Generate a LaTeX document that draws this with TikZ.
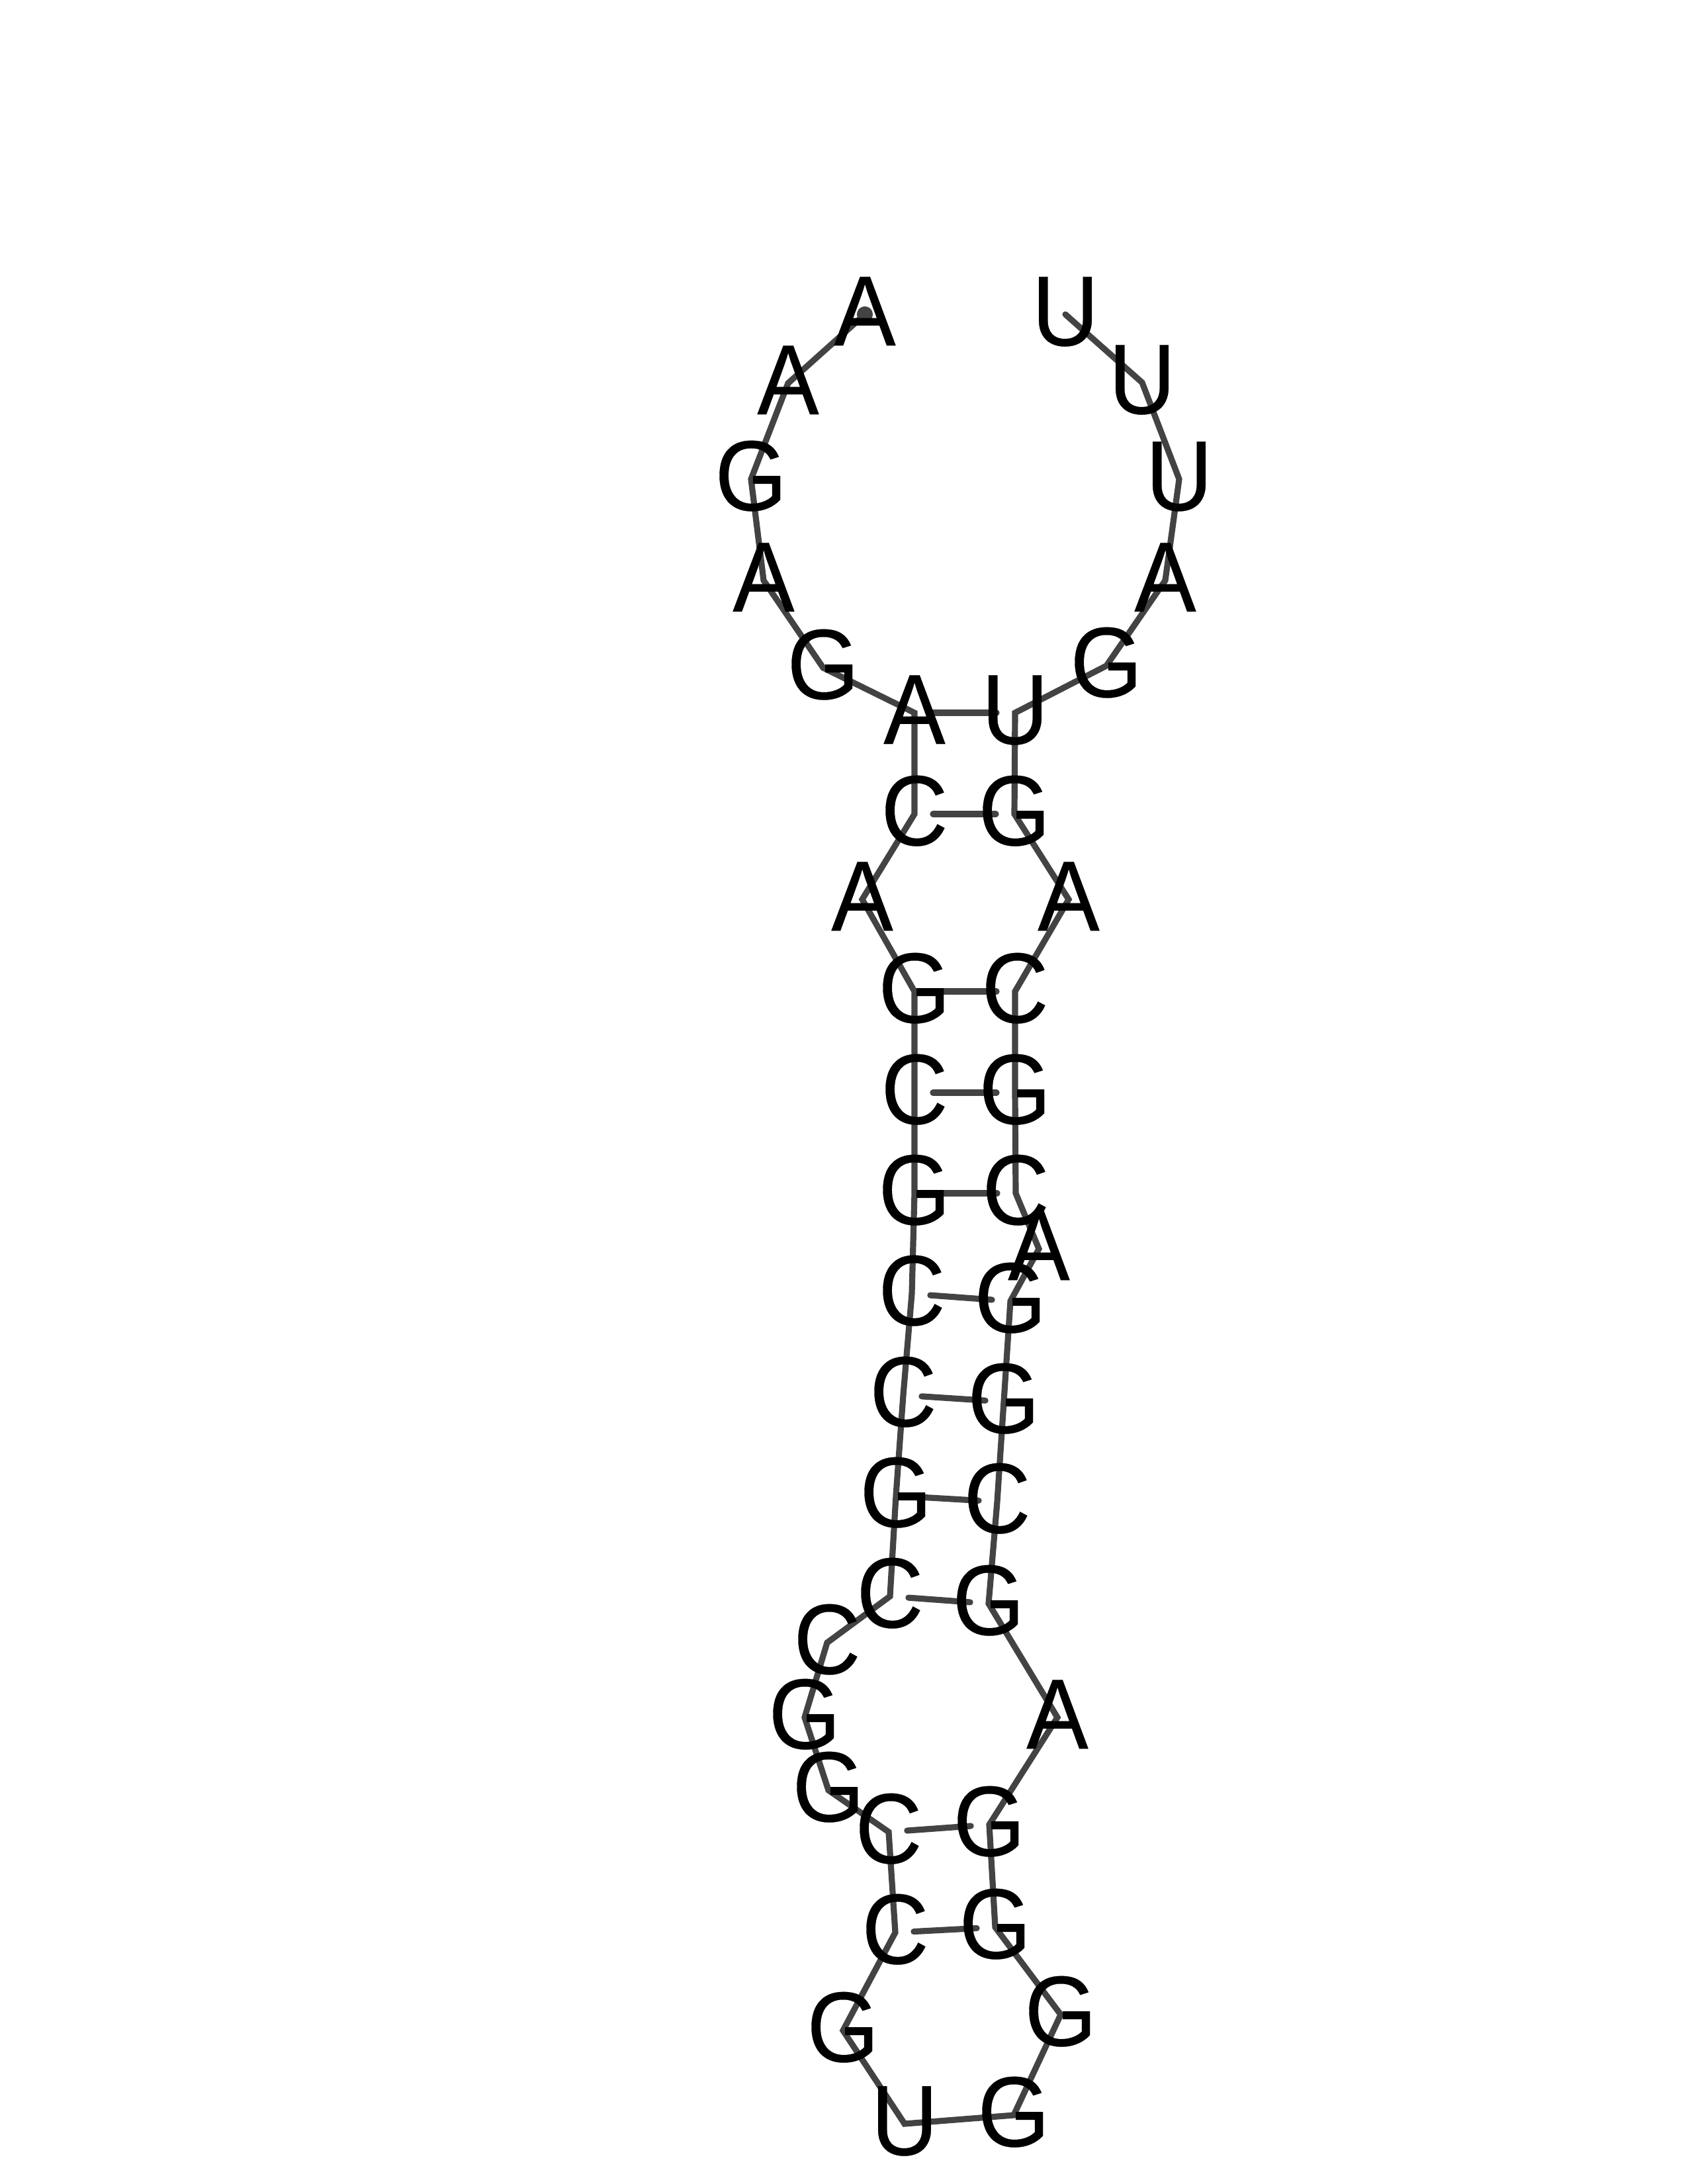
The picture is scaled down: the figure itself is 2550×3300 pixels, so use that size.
\documentclass[tikz,border=0pt]{standalone}
\usepackage{fontspec}
\usetikzlibrary{backgrounds}
\newfontfamily\basefont[FakeStretch=0.93,FakeBold=0.2]{Liberation Sans}
\definecolor{linegray}{HTML}{434343}
\tikzset{
  base/.style={inner sep=0pt, text height=25pt, text depth=2.4pt, text=black, font=\fontsize{36.2}{36.2}\basefont},
  backbone/.style={draw=linegray, line width=2.2pt, line cap=round},
  pair/.style={draw=linegray, line width=2.2pt, line cap=round, shorten >=6.7pt, shorten <=6.7pt}
}
\begin{document}
\begin{tikzpicture}[x=0.24pt, y=-0.24pt]
\useasboundingbox (0,0) rectangle (2550,3300);

% loop at the top
\node[base] (n1) at (1307,475) {A};
\node[base] (n2) at (1191,579) {A};
\node[base] (n3) at (1135,724) {G};
\node[base] (n4) at (1154,877) {A};
\node[base] (n5) at (1244,1009) {G};
\node[base] (n6) at (1382,1077) {A};
\node[base] (n7) at (1382,1230) {C};
\node[base] (n8) at (1303,1359) {A};
\node[base] (n9) at (1382,1498) {G};
\node[base] (n10) at (1382,1651) {C};
\node[base] (n11) at (1382,1803) {G};
\node[base] (n12) at (1378,1955) {C};
\node[base] (n13) at (1365,2108) {C};
\node[base] (n14) at (1354,2260) {G};
\node[base] (n15) at (1345,2412) {C};
\node[base] (n16) at (1250,2482) {C};
\node[base] (n17) at (1216,2595) {G};
\node[base] (n18) at (1252,2705) {G};
\node[base] (n19) at (1343,2768) {C};
\node[base] (n20) at (1353,2920) {C};
\node[base] (n21) at (1274,3068) {G};
\node[base] (n22) at (1367,3209) {U};
\node[base] (n23) at (1532,3196) {G};
\node[base] (n24) at (1603,3044) {G};
\node[base] (n25) at (1504,2912) {G};
\node[base] (n26) at (1495,2757) {G};
\node[base] (n27) at (1598,2595) {A};
\node[base] (n28) at (1494,2423) {G};
\node[base] (n29) at (1507,2269) {C};
\node[base] (n30) at (1517,2118) {G};
\node[base] (n31) at (1527,1966) {G};
\node[base] (n32) at (1570,1887) {A};
\node[base] (n33) at (1535,1803) {C};
\node[base] (n34) at (1534,1651) {G};
\node[base] (n35) at (1534,1498) {C};
\node[base] (n36) at (1615,1359) {A};
\node[base] (n37) at (1533,1230) {G};
\node[base] (n38) at (1534,1077) {U};
\node[base] (n39) at (1672,1006) {G};
\node[base] (n40) at (1761,877) {A};
\node[base] (n41) at (1782,724) {U};
\node[base] (n42) at (1726,578) {U};
\node[base] (n43) at (1610,475) {U};

\begin{scope}[on background layer]
\draw[backbone] (n1.center) -- (n2.center) -- (n3.center) -- (n4.center) -- (n5.center) -- (n6.center)
  -- (n7.center) -- (n8.center) -- (n9.center) -- (n10.center) -- (n11.center) -- (n12.center)
  -- (n13.center) -- (n14.center) -- (n15.center) -- (n16.center) -- (n17.center) -- (n18.center)
  -- (n19.center) -- (n20.center) -- (n21.center) -- (n22.center) -- (n23.center) -- (n24.center)
  -- (n25.center) -- (n26.center) -- (n27.center) -- (n28.center) -- (n29.center) -- (n30.center)
  -- (n31.center) -- (n32.center) -- (n33.center) -- (n34.center) -- (n35.center) -- (n36.center)
  -- (n37.center) -- (n38.center) -- (n39.center) -- (n40.center) -- (n41.center) -- (n42.center)
  -- (n43.center);
\fill[linegray] (n1.center) circle (2.9pt);

% base pairs
\draw[pair] (n6.center) -- (n38.center);
\draw[pair] (n7.center) -- (n37.center);
\draw[pair] (n9.center) -- (n35.center);
\draw[pair] (n10.center) -- (n34.center);
\draw[pair] (n11.center) -- (n33.center);
\draw[pair] (n12.center) -- (n31.center);
\draw[pair] (n13.center) -- (n30.center);
\draw[pair] (n14.center) -- (n29.center);
\draw[pair] (n15.center) -- (n28.center);
\draw[pair] (n19.center) -- (n26.center);
\draw[pair] (n20.center) -- (n25.center);
\end{scope}

\end{tikzpicture}
\end{document}
